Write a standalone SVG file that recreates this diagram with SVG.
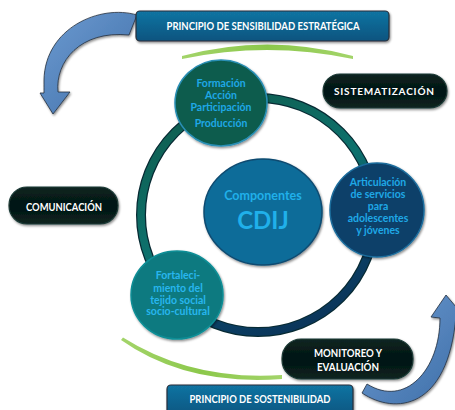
<svg xmlns="http://www.w3.org/2000/svg" width="455" height="410" viewBox="0 0 455 410">
<defs>
<linearGradient id="ringGrad" x1="0.25" y1="0" x2="0.75" y2="1">
<stop offset="0" stop-color="#0f5e50"/>
<stop offset="0.45" stop-color="#0d716d"/>
<stop offset="0.75" stop-color="#0b4266"/>
<stop offset="1" stop-color="#0a3358"/>
</linearGradient>
<linearGradient id="boxBlue" x1="0" y1="0" x2="0" y2="1">
<stop offset="0" stop-color="#1274a2"/>
<stop offset="1" stop-color="#0a547f"/>
</linearGradient>
<linearGradient id="pill" x1="0" y1="0" x2="0" y2="1">
<stop offset="0" stop-color="#0b2622"/>
<stop offset="0.5" stop-color="#031412"/>
<stop offset="1" stop-color="#0a2421"/>
</linearGradient>
<linearGradient id="arrowGrad" x1="0" y1="0" x2="1" y2="1">
<stop offset="0" stop-color="#6d9bd1"/>
<stop offset="1" stop-color="#3e6ea8"/>
</linearGradient>
<linearGradient id="greenGrad" x1="0" y1="0" x2="1" y2="0">
<stop offset="0" stop-color="#a3d46a"/>
<stop offset="0.5" stop-color="#8cc84b"/>
<stop offset="1" stop-color="#a3d46a"/>
</linearGradient>
<filter id="shadow" x="-20%" y="-20%" width="140%" height="150%">
<feDropShadow dx="1" dy="1.5" stdDeviation="1.2" flood-color="#000" flood-opacity="0.45"/>
</filter>
</defs>
<style>
.lbl{font-family:Lato,"Liberation Sans",sans-serif;font-weight:bold;text-anchor:middle}
.inner{fill:#1fa8e6;font-size:10.5px}
.boxtxt{fill:#ffffff;font-size:10.5px}
.pillbox{fill:url(#pill);stroke:#1c3a36;stroke-width:1.2;filter:url(#shadow)}
.bluebox{fill:url(#boxBlue);stroke:#2a2f3a;stroke-width:1.2;filter:url(#shadow)}
.arrow{fill:url(#arrowGrad);stroke:#24303f;stroke-width:0.8;filter:url(#shadow)}
.green{fill:url(#greenGrad)}
</style>

<g id="connectors">
<circle cx="258" cy="215" r="117" fill="none" stroke="#072a33" stroke-width="10"/>
<circle cx="258" cy="215" r="117" fill="none" stroke="url(#ringGrad)" stroke-width="7.5"/>
<path class="green" d="M182 56 Q267 33 353 56 L353 59 Q267 41 182 59 Z"/>
<path class="green" d="M123 337.5 Q192 381 282 375 L282 379 Q186 386 121 340 Z"/>
<path class="arrow" d="M137 15 C100 4 45 28 44 80 C44 86 44 90 44 93 L40 93 L53 114 L70 92 L58 92 C55 62 80 30 129 35 Z"/>
<path class="arrow" d="M362 393 C395 415 448 410 456 316 L462 314 L446 295 L431 317 L440 318 C440 370 405 408 367 384 Z"/>
</g>

<g id="node-principio-sensibilidad">
<rect class="bluebox" x="136" y="11" width="253" height="30" rx="4"/>
<text class="lbl boxtxt" x="263" y="30" textLength="193" lengthAdjust="spacingAndGlyphs">PRINCIPIO DE SENSIBILIDAD ESTRATÉGICA</text>
</g>

<g id="node-sistematizacion">
<rect class="pillbox" x="323" y="74" width="124" height="34" rx="17"/>
<text class="lbl boxtxt" x="384" y="95" textLength="100" lengthAdjust="spacing" style="font-size:10px">SISTEMATIZACIÓN</text>
</g>

<g id="node-comunicacion">
<rect class="pillbox" x="9" y="187" width="109" height="37" rx="18"/>
<text class="lbl boxtxt" x="64" y="211" textLength="76" lengthAdjust="spacingAndGlyphs">COMUNICACIÓN</text>
</g>

<g id="node-monitoreo">
<rect class="pillbox" x="282" y="339" width="131" height="40" rx="19"/>
<text class="lbl boxtxt" x="348" y="357" textLength="68" lengthAdjust="spacingAndGlyphs">MONITOREO Y</text>
<text class="lbl boxtxt" x="348" y="371" textLength="62" lengthAdjust="spacingAndGlyphs">EVALUACIÓN</text>
</g>

<g id="node-principio-sostenibilidad">
<rect class="bluebox" x="167" y="385" width="186" height="32" rx="4"/>
<text class="lbl boxtxt" x="260" y="403" textLength="141" lengthAdjust="spacingAndGlyphs">PRINCIPIO DE SOSTENIBILIDAD</text>
</g>

<g id="node-componentes">
<ellipse cx="263" cy="212" rx="59" ry="53" fill="#0e6c99" stroke="#0a4a70" stroke-width="1.5" filter="url(#shadow)"/>
<text class="lbl" x="263" y="200" style="fill:#20b0ea;font-size:12.5px">Componentes</text>
<text class="lbl" x="263" y="229" style="fill:#20b0ea;font-size:24px">CDIJ</text>
</g>

<g id="node-formacion">
<ellipse cx="221" cy="103" rx="46" ry="43" fill="#0b5c4e" stroke="#2a8fb5" stroke-width="1.5" filter="url(#shadow)"/>
<text class="lbl inner" x="221" y="87">Formación</text>
<text class="lbl inner" x="221" y="99">Acción</text>
<text class="lbl inner" x="221" y="111">Participación</text>
<text class="lbl inner" x="221" y="127">Producción</text>
</g>

<g id="node-articulacion">
<circle cx="377" cy="210" r="47" fill="#0b3f69" stroke="#1b6c9c" stroke-width="1.5" filter="url(#shadow)"/>
<text class="lbl inner" x="378" y="186">Articulación</text>
<text class="lbl inner" x="378" y="198">de servicios</text>
<text class="lbl inner" x="378" y="210">para</text>
<text class="lbl inner" x="378" y="222">adolescentes</text>
<text class="lbl inner" x="378" y="234">y jóvenes</text>
</g>

<g id="node-fortalecimiento">
<ellipse cx="177" cy="295" rx="46" ry="44" fill="#0c7a80" stroke="#0f8e96" stroke-width="1.5" filter="url(#shadow)"/>
<text class="lbl inner" x="178" y="279" style="fill:#28b6ee">Fortaleci-</text>
<text class="lbl inner" x="178" y="292" style="fill:#28b6ee">miento del</text>
<text class="lbl inner" x="178" y="304" style="fill:#28b6ee">tejido social</text>
<text class="lbl inner" x="178" y="315" style="fill:#28b6ee">socio-cultural</text>
</g>
</svg>
